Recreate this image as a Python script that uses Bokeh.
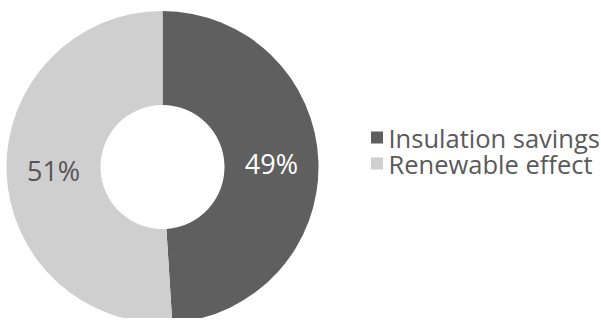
import math
from bokeh.plotting import figure
from bokeh.models import Range1d, ColumnDataSource
from bokeh.core.properties import value
from bokeh.embed import file_html
from bokeh.resources import INLINE

categories = ["Insulation savings", "Renewable effect"]
shares = [49, 51]
pct_labels = ["49%", "51%"]
colors = ["#5f5f5f", "#d0cfd0"]
label_colors = ["#ffffff", "#555555"]

W, H = 600, 318
# data coordinates: x = screen x, y = 320 - screen y
p = figure(width=W, height=H, output_backend="svg", toolbar_location=None,
           x_range=Range1d(0, W), y_range=Range1d(320 - H, 320),
           min_border=0)
p.axis.visible = False
p.grid.visible = False
p.outline_line_color = None
p.background_fill_color = "white"

cx, cy = 162, 320 - 166.5
r_in, r_out = 62, 156

total = sum(shares)
starts, ends, lx, ly = [], [], [], []
a = math.pi / 2
for s in shares:
    b = a - 2 * math.pi * s / total
    starts.append(b)
    ends.append(a)
    mid = (a + b) / 2
    rm = (r_in + r_out) / 2
    lx.append(cx + rm * math.cos(mid))
    ly.append(cy + rm * math.sin(mid))
    a = b

src = ColumnDataSource(dict(start=starts, end=ends, color=colors, lx=lx, ly=ly,
                            lab=pct_labels, lc=label_colors, cat=categories))
p.annular_wedge(x=cx, y=cy, inner_radius=r_in, outer_radius=r_out,
                start_angle="start", end_angle="end", fill_color="color",
                line_color=None, source=src)
p.text(x="lx", y="ly", text="lab", text_color="lc", text_align="center",
       text_baseline="middle", text_font=value("Open Sans"),
       text_font_size="27px", source=src)

# legend
leg_y = [320 - 137, 320 - 163]
src2 = ColumnDataSource(dict(y=leg_y, color=colors, cat=categories))
p.scatter(x=376.5, y="y", marker="square", size=12, fill_color="color",
          line_color=None, source=src2)
p.text(x=388, y="y", text="cat", text_color="#5a5a5a", text_align="left",
       text_baseline="middle", text_font=value("Open Sans"),
       text_font_size="25.5px", source=src2)

open("out.html", "w").write(file_html(p, INLINE))
